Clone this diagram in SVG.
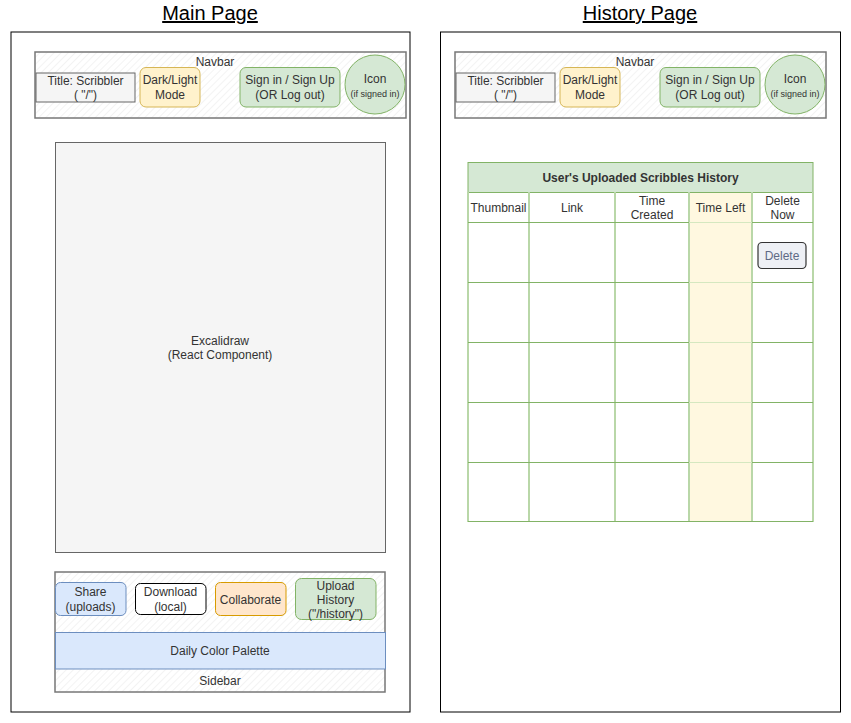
<svg xmlns="http://www.w3.org/2000/svg" width="851" height="723" viewBox="0 0 851 723">
<defs>
<pattern id="hatch" patternUnits="userSpaceOnUse" width="5" height="5" patternTransform="rotate(45)">
<rect width="5" height="5" fill="#ffffff"/>
<line x1="0" y1="0" x2="0" y2="5" stroke="#e8e8e8" stroke-width="1"/>
</pattern>
<style>
text{font-family:"Liberation Sans",Arial,sans-serif;font-size:12px;fill:#333333;text-anchor:middle}
.title{font-size:20px;fill:#000000;text-decoration:underline}
.frame{fill:#ffffff;stroke:#000000;stroke-width:1}
.sketch{fill:url(#hatch);stroke:#777777;stroke-width:1.5}
.grey{fill:#f5f5f5;stroke:#666666}
.yellow{fill:#fff2cc;stroke:#d6b656}
.green{fill:#d5e8d4;stroke:#82b366}
.blue{fill:#dae8fc;stroke:#6c8ebf}
.orange{fill:#ffe6cc;stroke:#d79b00}
.white{fill:#ffffff;stroke:#000000}
.vline{stroke:#b9d7a8;stroke-width:2}
.hline{stroke:#82b366;stroke-width:1}
.small{font-size:9px}
</style>
</defs>
<rect width="851" height="723" fill="#ffffff"/>
<text class="title" x="210" y="20">Main Page</text>
<text class="title" x="640" y="20">History Page</text>

<g id="main-page">
<rect class="frame" x="11" y="32" width="399" height="680"/>
</g>
<g id="history-page">
<rect class="frame" x="440.5" y="32" width="400" height="680"/>
</g>

<g id="main-navbar">
<rect class="sketch" x="35" y="52" width="371" height="66"/>
<text x="215" y="66">Navbar</text>
</g>
<g id="main-title">
<rect class="grey" x="36" y="73" width="99" height="29"/>
<text x="85.5" y="85">Title: Scribbler</text>
<text x="85.5" y="99">( "/")</text>
</g>
<g id="main-mode">
<rect class="yellow" x="140" y="67.5" width="60" height="39.5" rx="6"/>
<text x="170" y="84">Dark/Light</text>
<text x="170" y="99">Mode</text>
</g>
<g id="main-signin">
<rect class="green" x="240" y="67.5" width="100" height="39.5" rx="6"/>
<text x="290" y="84">Sign in / Sign Up</text>
<text x="290" y="99">(OR Log out)</text>
</g>
<g id="main-icon">
<ellipse class="green" cx="375" cy="84.5" rx="30" ry="29.5"/>
<text x="375" y="83">Icon</text>
<text class="small" x="375" y="97">(if signed in)</text>
</g>

<g id="excalidraw">
<rect class="grey" x="55.5" y="142.5" width="330" height="410"/>
<text x="220" y="345">Excalidraw</text>
<text x="220" y="359">(React Component)</text>
</g>

<g id="sidebar">
<rect class="sketch" x="55" y="572" width="330" height="120"/>
<text x="220" y="685">Sidebar</text>
</g>
<g id="share">
<rect class="blue" x="55.5" y="582.5" width="70.5" height="33" rx="5"/>
<text x="90.5" y="596">Share</text>
<text x="90.5" y="611">(uploads)</text>
</g>
<g id="download">
<rect class="white" x="135.5" y="583.5" width="70.5" height="31" rx="5" stroke="#333333"/>
<text x="170.5" y="596">Download</text>
<text x="170.5" y="611">(local)</text>
</g>
<g id="collaborate">
<rect class="orange" x="215.5" y="582.5" width="70.5" height="33" rx="5"/>
<text x="250.5" y="603.5">Collaborate</text>
</g>
<g id="upload-history">
<rect class="green" x="295.5" y="578.5" width="80.5" height="41" rx="6"/>
<text x="335.5" y="590">Upload</text>
<text x="335.5" y="604">History</text>
<text x="335.5" y="618">("/history")</text>
</g>
<g id="palette">
<rect class="blue" x="55.5" y="632.5" width="330" height="36.5"/>
<text x="220" y="655">Daily Color Palette</text>
</g>

<g id="history-navbar">
<rect class="sketch" x="455" y="52" width="371" height="66"/>
<text x="635" y="66">Navbar</text>
</g>
<g id="history-title">
<rect class="grey" x="456" y="73" width="99" height="29"/>
<text x="505.5" y="85">Title: Scribbler</text>
<text x="505.5" y="99">( "/")</text>
</g>
<g id="history-mode">
<rect class="yellow" x="560" y="67.5" width="60" height="39.5" rx="6"/>
<text x="590" y="84">Dark/Light</text>
<text x="590" y="99">Mode</text>
</g>
<g id="history-signin">
<rect class="green" x="660" y="67.5" width="100" height="39.5" rx="6"/>
<text x="710" y="84">Sign in / Sign Up</text>
<text x="710" y="99">(OR Log out)</text>
</g>
<g id="history-icon">
<ellipse class="green" cx="795" cy="84.5" rx="30" ry="29.5"/>
<text x="795" y="83">Icon</text>
<text class="small" x="795" y="97">(if signed in)</text>
</g>

<g id="history-table">
<rect x="468" y="192" width="345" height="330" fill="#ffffff"/>
<rect x="689" y="192" width="63" height="330" fill="#fff8e0"/>
<rect class="green" x="468" y="162.5" width="345" height="30"/>
<text x="640.5" y="182" style="font-weight:bold">User's Uploaded Scribbles History</text>
<line class="vline" x1="468" y1="192" x2="468" y2="522"/>
<line class="vline" x1="529" y1="192" x2="529" y2="522"/>
<line class="vline" x1="615" y1="192" x2="615" y2="522"/>
<line class="vline" x1="689" y1="192" x2="689" y2="522" stroke-width="1"/>
<line class="vline" x1="752" y1="192" x2="752" y2="522" stroke-width="1"/>
<line class="vline" x1="813" y1="192" x2="813" y2="522"/>
<line class="hline" x1="468" y1="222.5" x2="689" y2="222.5"/>
<line class="hline" x1="752" y1="222.5" x2="813" y2="222.5"/>
<line x1="689" y1="222.5" x2="752" y2="222.5" stroke="#d5e8c0"/>
<line class="hline" x1="468" y1="282.5" x2="689" y2="282.5"/>
<line class="hline" x1="752" y1="282.5" x2="813" y2="282.5"/>
<line x1="689" y1="282.5" x2="752" y2="282.5" stroke="#d5e8c0"/>
<line class="hline" x1="468" y1="342.5" x2="689" y2="342.5"/>
<line class="hline" x1="752" y1="342.5" x2="813" y2="342.5"/>
<line x1="689" y1="342.5" x2="752" y2="342.5" stroke="#d5e8c0"/>
<line class="hline" x1="468" y1="402.5" x2="689" y2="402.5"/>
<line class="hline" x1="752" y1="402.5" x2="813" y2="402.5"/>
<line x1="689" y1="402.5" x2="752" y2="402.5" stroke="#d5e8c0"/>
<line class="hline" x1="468" y1="462.5" x2="689" y2="462.5"/>
<line class="hline" x1="752" y1="462.5" x2="813" y2="462.5"/>
<line x1="689" y1="462.5" x2="752" y2="462.5" stroke="#d5e8c0"/>
<line class="hline" x1="468" y1="521.5" x2="813" y2="521.5"/>
<text x="498.5" y="212">Thumbnail</text>
<text x="572" y="212">Link</text>
<text x="652" y="205">Time</text>
<text x="652" y="219">Created</text>
<text x="720.5" y="212">Time Left</text>
<text x="782.5" y="205">Delete</text>
<text x="782.5" y="219">Now</text>
</g>
<g id="delete-button">
<rect x="758" y="242.5" width="48" height="26" rx="4" fill="#eef0f5" stroke="#333333" stroke-width="1.2"/>
<text x="782" y="260" style="fill:#5e6a85">Delete</text>
</g>
</svg>
